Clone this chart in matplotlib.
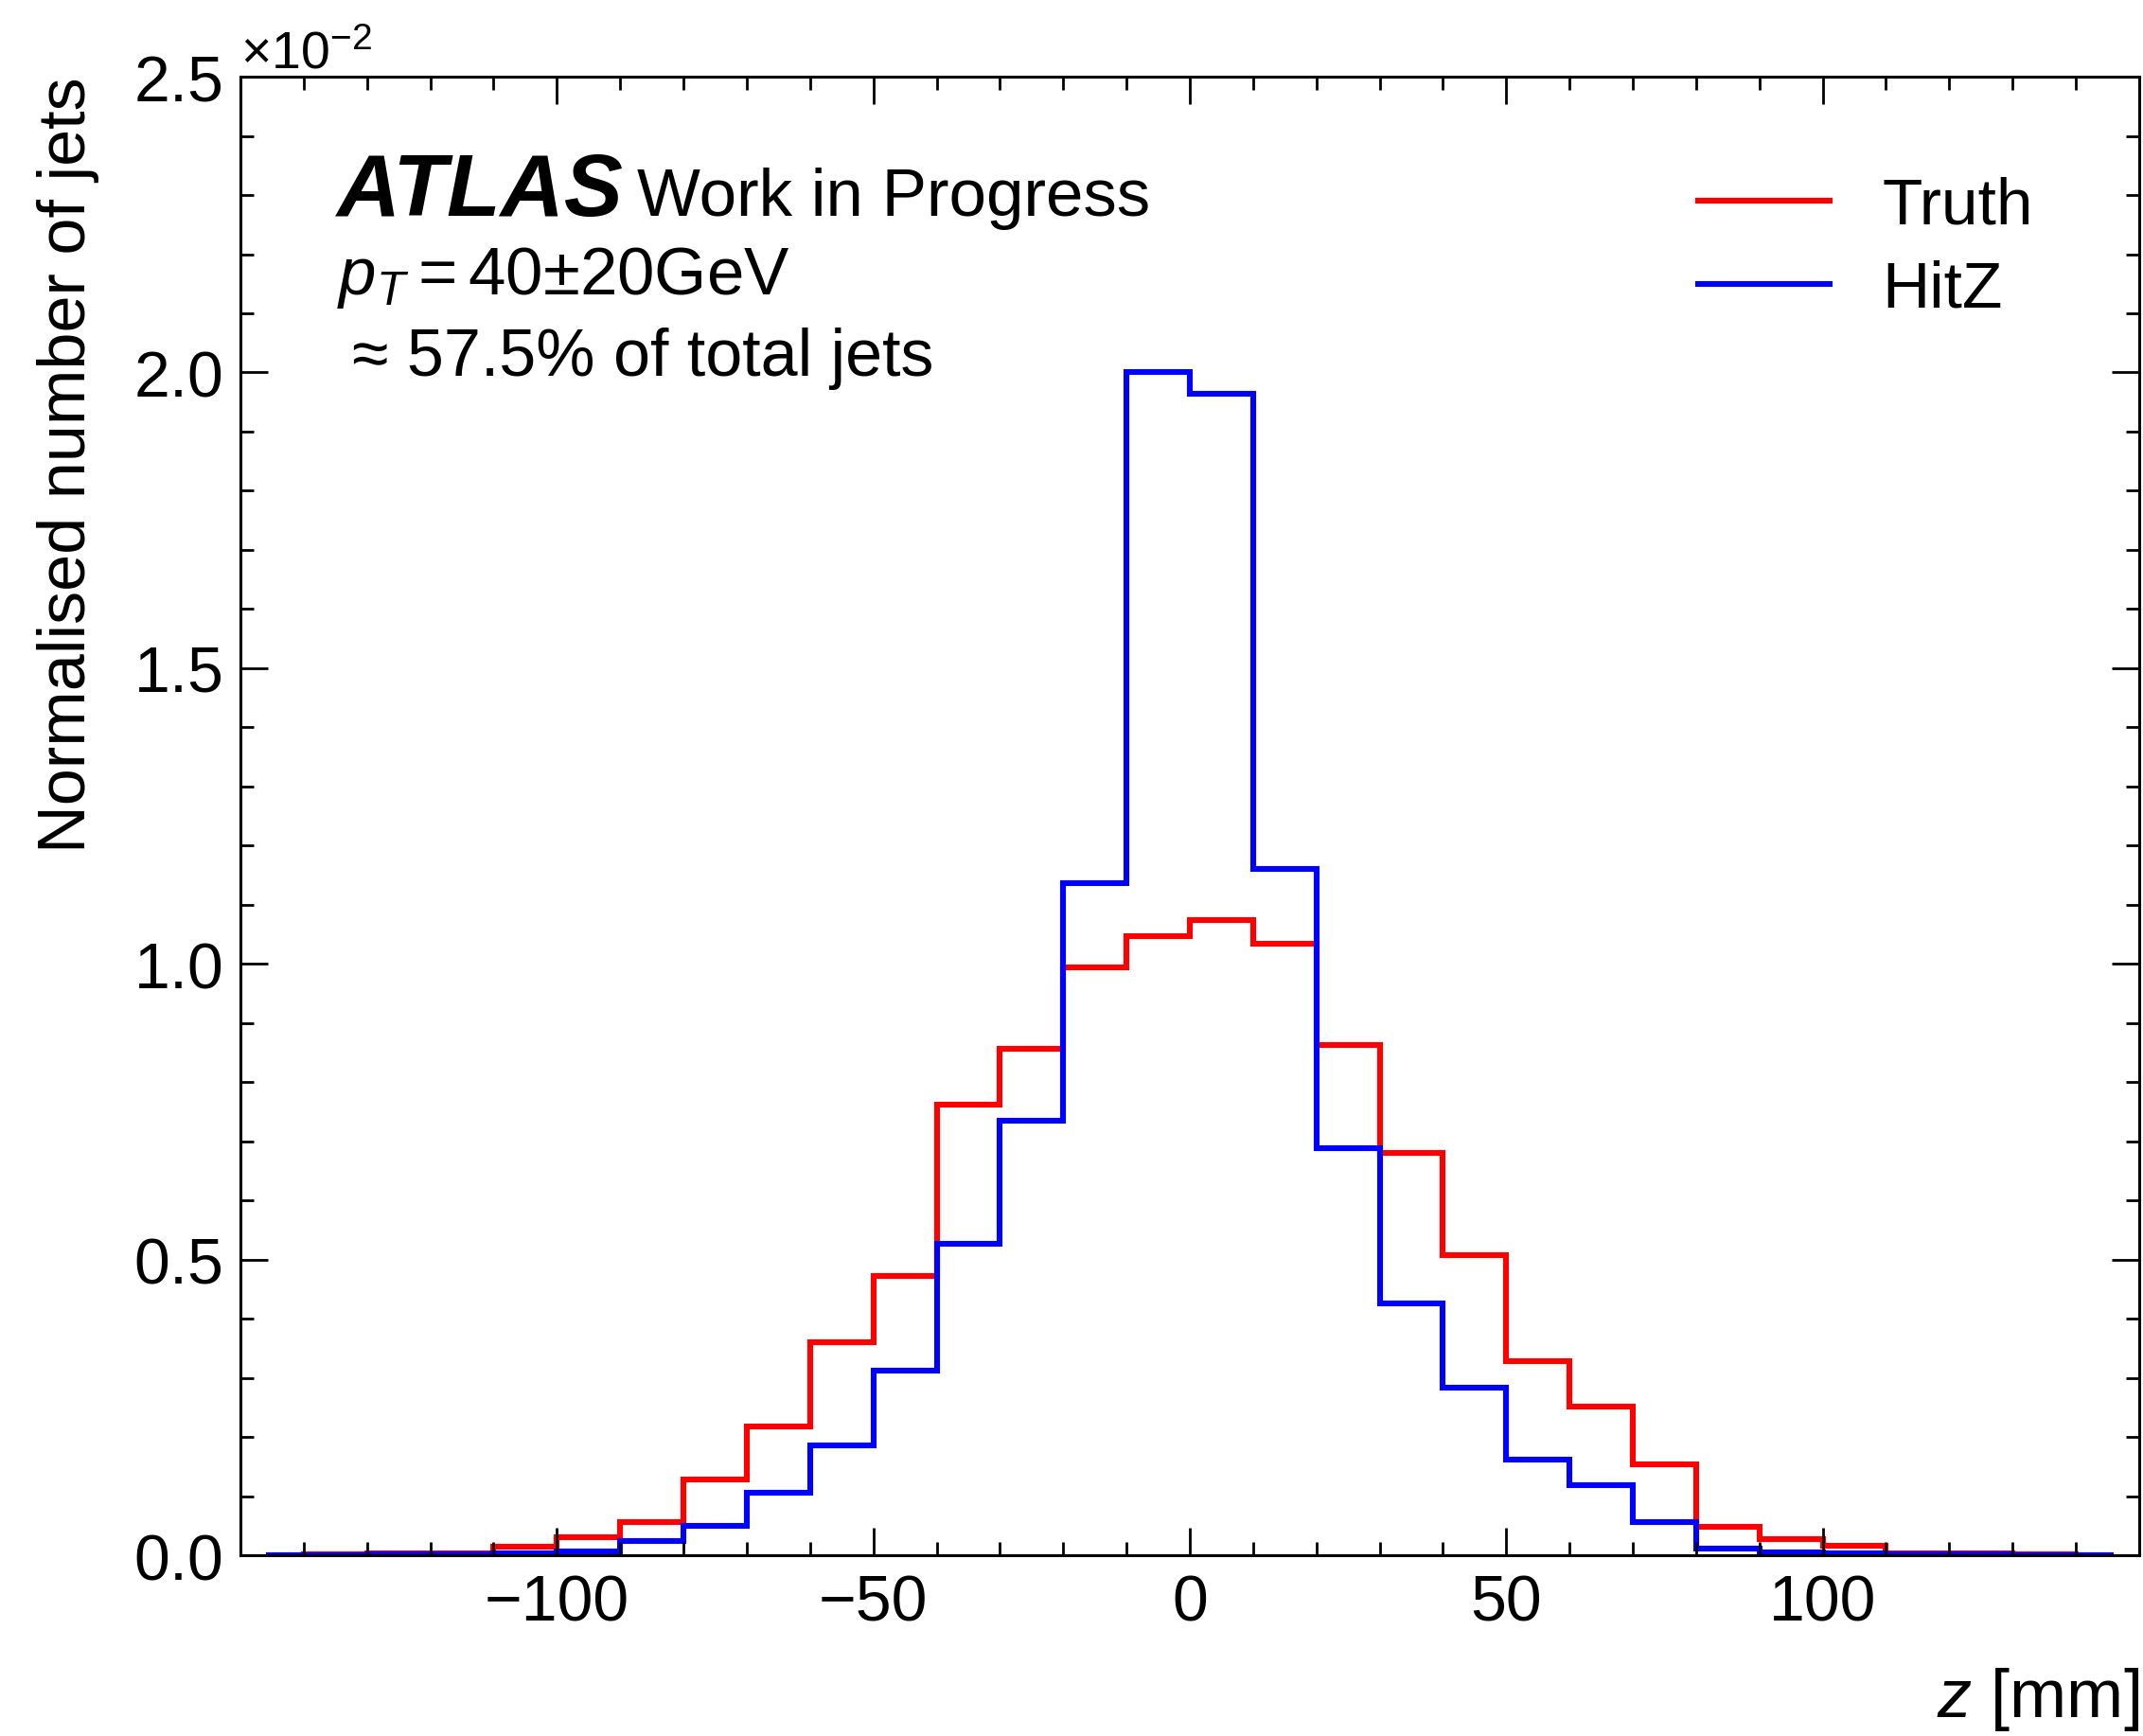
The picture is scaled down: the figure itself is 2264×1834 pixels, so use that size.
import numpy as np
import matplotlib
matplotlib.use("Agg")
import matplotlib.pyplot as plt
from matplotlib.ticker import MultipleLocator, FixedLocator, ScalarFormatter

plt.rcParams['font.family'] = ['Liberation Sans', 'DejaVu Sans']
plt.rcParams['mathtext.fontset'] = 'custom'
plt.rcParams['mathtext.rm'] = 'Liberation Sans'
plt.rcParams['mathtext.it'] = 'Liberation Sans:italic'
plt.rcParams['mathtext.bf'] = 'Liberation Sans:bold'

# bin edges in z [mm]
edges = np.array([-146, -140, -130, -120, -110, -100, -90, -80, -70, -60, -50,
                  -40, -30, -20, -10, 0, 10, 20, 30, 40, 50, 60, 70, 80, 90,
                  100, 110, 120, 130, 140, 146])

# normalised counts (x 1e-2)
truth = np.array([0, 0.001, 0.004, 0.004, 0.014, 0.031, 0.056, 0.128, 0.218, 0.360,
                  0.472, 0.762, 0.856, 0.994, 1.047, 1.074, 1.034, 0.863, 0.681, 0.507,
                  0.328, 0.252, 0.154, 0.048, 0.027, 0.016, 0.004, 0.004, 0.001, 0]) * 1e-2
hitz = np.array([0, 0, 0.001, 0.001, 0.003, 0.007, 0.024, 0.049, 0.105, 0.186,
                 0.312, 0.527, 0.734, 1.136, 2.000, 1.964, 1.160, 0.689, 0.426, 0.284,
                 0.162, 0.118, 0.056, 0.011, 0.005, 0.003, 0.001, 0.001, 0, 0]) * 1e-2

xticks = [-100, -50, 0, 50, 100]

fig = plt.figure(figsize=(11.32, 9.17), dpi=200)
ax = fig.add_axes([0.1122, 0.1041, 0.8860, 0.8517])

ax.stairs(truth, edges, color='red', lw=2.2, label='Truth')
ax.stairs(hitz, edges, color='blue', lw=2.2, label='HitZ')

ax.set_xlim(-150, 150)
ax.set_ylim(0, 0.025)

ax.xaxis.set_major_locator(FixedLocator(xticks))
ax.xaxis.set_minor_locator(MultipleLocator(10))
ax.yaxis.set_major_locator(MultipleLocator(0.005))
ax.yaxis.set_minor_locator(MultipleLocator(0.001))
fmt = ScalarFormatter(useMathText=True)
fmt.set_powerlimits((0, 0))
ax.yaxis.set_major_formatter(fmt)
ax.yaxis.get_offset_text().set_fontsize(20)

ax.tick_params(which='both', direction='in', top=True, right=True, labelsize=24.5, pad=7)
ax.tick_params(which='major', length=10.5, width=1.0)
ax.tick_params(which='minor', length=5.2, width=1.0)
for s in ax.spines.values():
    s.set_linewidth(1.1)

ax.set_xlabel(r'$z$ [mm]', fontsize=26, loc='right', labelpad=12)
ax.set_ylabel('Normalised number of jets', fontsize=25.3, loc='top', labelpad=13)

ax.text(0.051, 0.906, 'ATLAS', transform=ax.transAxes, fontsize=33.5,
        fontweight='bold', fontstyle='italic')
ax.text(0.209, 0.906, 'Work in Progress', transform=ax.transAxes, fontsize=25.5)
ax.text(0.051, 0.853, r'$p_T = 40{\pm}20$GeV', transform=ax.transAxes, fontsize=25.5)
ax.text(0.059, 0.798, '≈ 57.5% of total jets', transform=ax.transAxes, fontsize=25.2)

ax.legend(loc='upper right', bbox_to_anchor=(0.9942, 0.9972), fontsize=25,
          frameon=False, handlelength=2.0, handletextpad=0.8, labelspacing=0.35,
          borderaxespad=1.05)

fig.savefig('out.png', dpi=200)
